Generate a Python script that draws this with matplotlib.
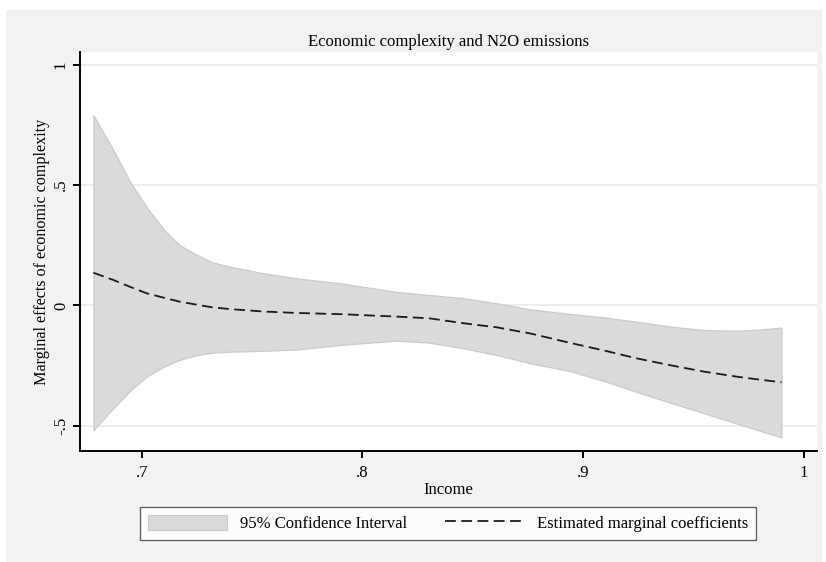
import matplotlib
matplotlib.use("Agg")
import matplotlib.pyplot as plt
from matplotlib.patches import Rectangle, Patch
from matplotlib.lines import Line2D

# Income levels at which the marginal effect is evaluated
income = [0.678, 0.687, 0.695, 0.702, 0.710, 0.717, 0.725, 0.732, 0.740,
          0.755, 0.770, 0.790, 0.815, 0.830, 0.846, 0.861, 0.876, 0.894,
          0.910, 0.924, 0.940, 0.955, 0.970, 0.980, 0.990]

# Estimated marginal coefficient of economic complexity
effect = [0.136, 0.106, 0.076, 0.051, 0.032, 0.016, 0.003, -0.008, -0.015,
          -0.025, -0.031, -0.036, -0.046, -0.053, -0.074, -0.091, -0.116,
          -0.155, -0.188, -0.219, -0.249, -0.275, -0.296, -0.308, -0.319]

# 95% confidence bounds
upper = [0.790, 0.646, 0.508, 0.410, 0.314, 0.251, 0.210, 0.179, 0.161,
         0.134, 0.113, 0.092, 0.057, 0.044, 0.030, 0.009, -0.016, -0.035,
         -0.050, -0.067, -0.088, -0.102, -0.105, -0.100, -0.092]
lower = [-0.517, -0.427, -0.351, -0.296, -0.254, -0.226, -0.206, -0.196,
         -0.192, -0.188, -0.183, -0.164, -0.146, -0.154, -0.178, -0.206,
         -0.240, -0.272, -0.315, -0.358, -0.405, -0.448, -0.491, -0.520,
         -0.548]

xticks = [0.7, 0.8, 0.9, 1.0]
xticklabels = [".7", ".8", ".9", "1"]
yticks = [-0.5, 0, 0.5, 1]
yticklabels = ["-.5", "0", ".5", "1"]

plt.rcParams["font.family"] = ["Liberation Serif", "DejaVu Serif"]

W, H = 826, 562
fig = plt.figure(figsize=(W / 100, H / 100), dpi=100)
fig.patch.set_facecolor("white")

# grey graph region
fig.add_artist(Rectangle((6 / W, 0), (822 - 6) / W, 1 - 10 / H,
                         transform=fig.transFigure, facecolor="#f2f2f2",
                         edgecolor="none", zorder=0))

ax = fig.add_axes([80 / W, 1 - 451 / H, (817 - 80) / W, (451 - 52) / H])
ax.set_facecolor("white")

fill_color = "#d9dadb"
line_dashes = (6, 3)
ax.fill_between(income, lower, upper, facecolor=fill_color,
                edgecolor="#c9caca", linewidth=0.9, zorder=2)
ax.plot(income, effect, color="#1a1a1a", linewidth=1.3,
        dashes=line_dashes, zorder=3)

ax.set_xlim(0.6719, 1.0061)
ax.set_ylim(-0.6045, 1.053)

ax.set_yticks(yticks)
ax.set_yticklabels(yticklabels, rotation=90, va="center")
ax.set_xticks(xticks)
ax.set_xticklabels(xticklabels)
ax.yaxis.grid(True, color="#eaeaea", linewidth=1.2, zorder=1)
ax.set_axisbelow(True)

for side in ("top", "right"):
    ax.spines[side].set_visible(False)
for side in ("left", "bottom"):
    ax.spines[side].set_linewidth(1.4)
    ax.spines[side].set_color("black")

ax.tick_params(axis="both", direction="out", length=5, width=1.4,
               labelsize=12, colors="black")
ax.tick_params(axis="y", pad=3)
ax.tick_params(axis="x", pad=5)

ax.set_title("Economic complexity and N2O emissions", fontsize=12, pad=4)
ax.set_xlabel("Income", fontsize=12, labelpad=1)
ax.set_ylabel("Marginal effects of economic complexity", fontsize=11.6,
              labelpad=2)

handles = [Patch(facecolor=fill_color, edgecolor="#c9caca", linewidth=0.8),
           Line2D([0], [0], color="#1a1a1a", linewidth=1.3, dashes=line_dashes)]
labels = ["95% Confidence Interval", "Estimated marginal coefficients"]
leg = fig.legend(handles, labels, ncol=2, loc="center",
                 bbox_to_anchor=(448 / W, 1 - 523.5 / H),
                 fontsize=12, frameon=True, fancybox=False,
                 handlelength=4.75, handleheight=1.0, handletextpad=0.75,
                 columnspacing=2.3, borderpad=0.45)
leg.get_frame().set_edgecolor("#333333")
leg.get_frame().set_linewidth(0.9)
leg.get_frame().set_facecolor("white")

fig.savefig("out.png", dpi=100, facecolor=fig.get_facecolor())
